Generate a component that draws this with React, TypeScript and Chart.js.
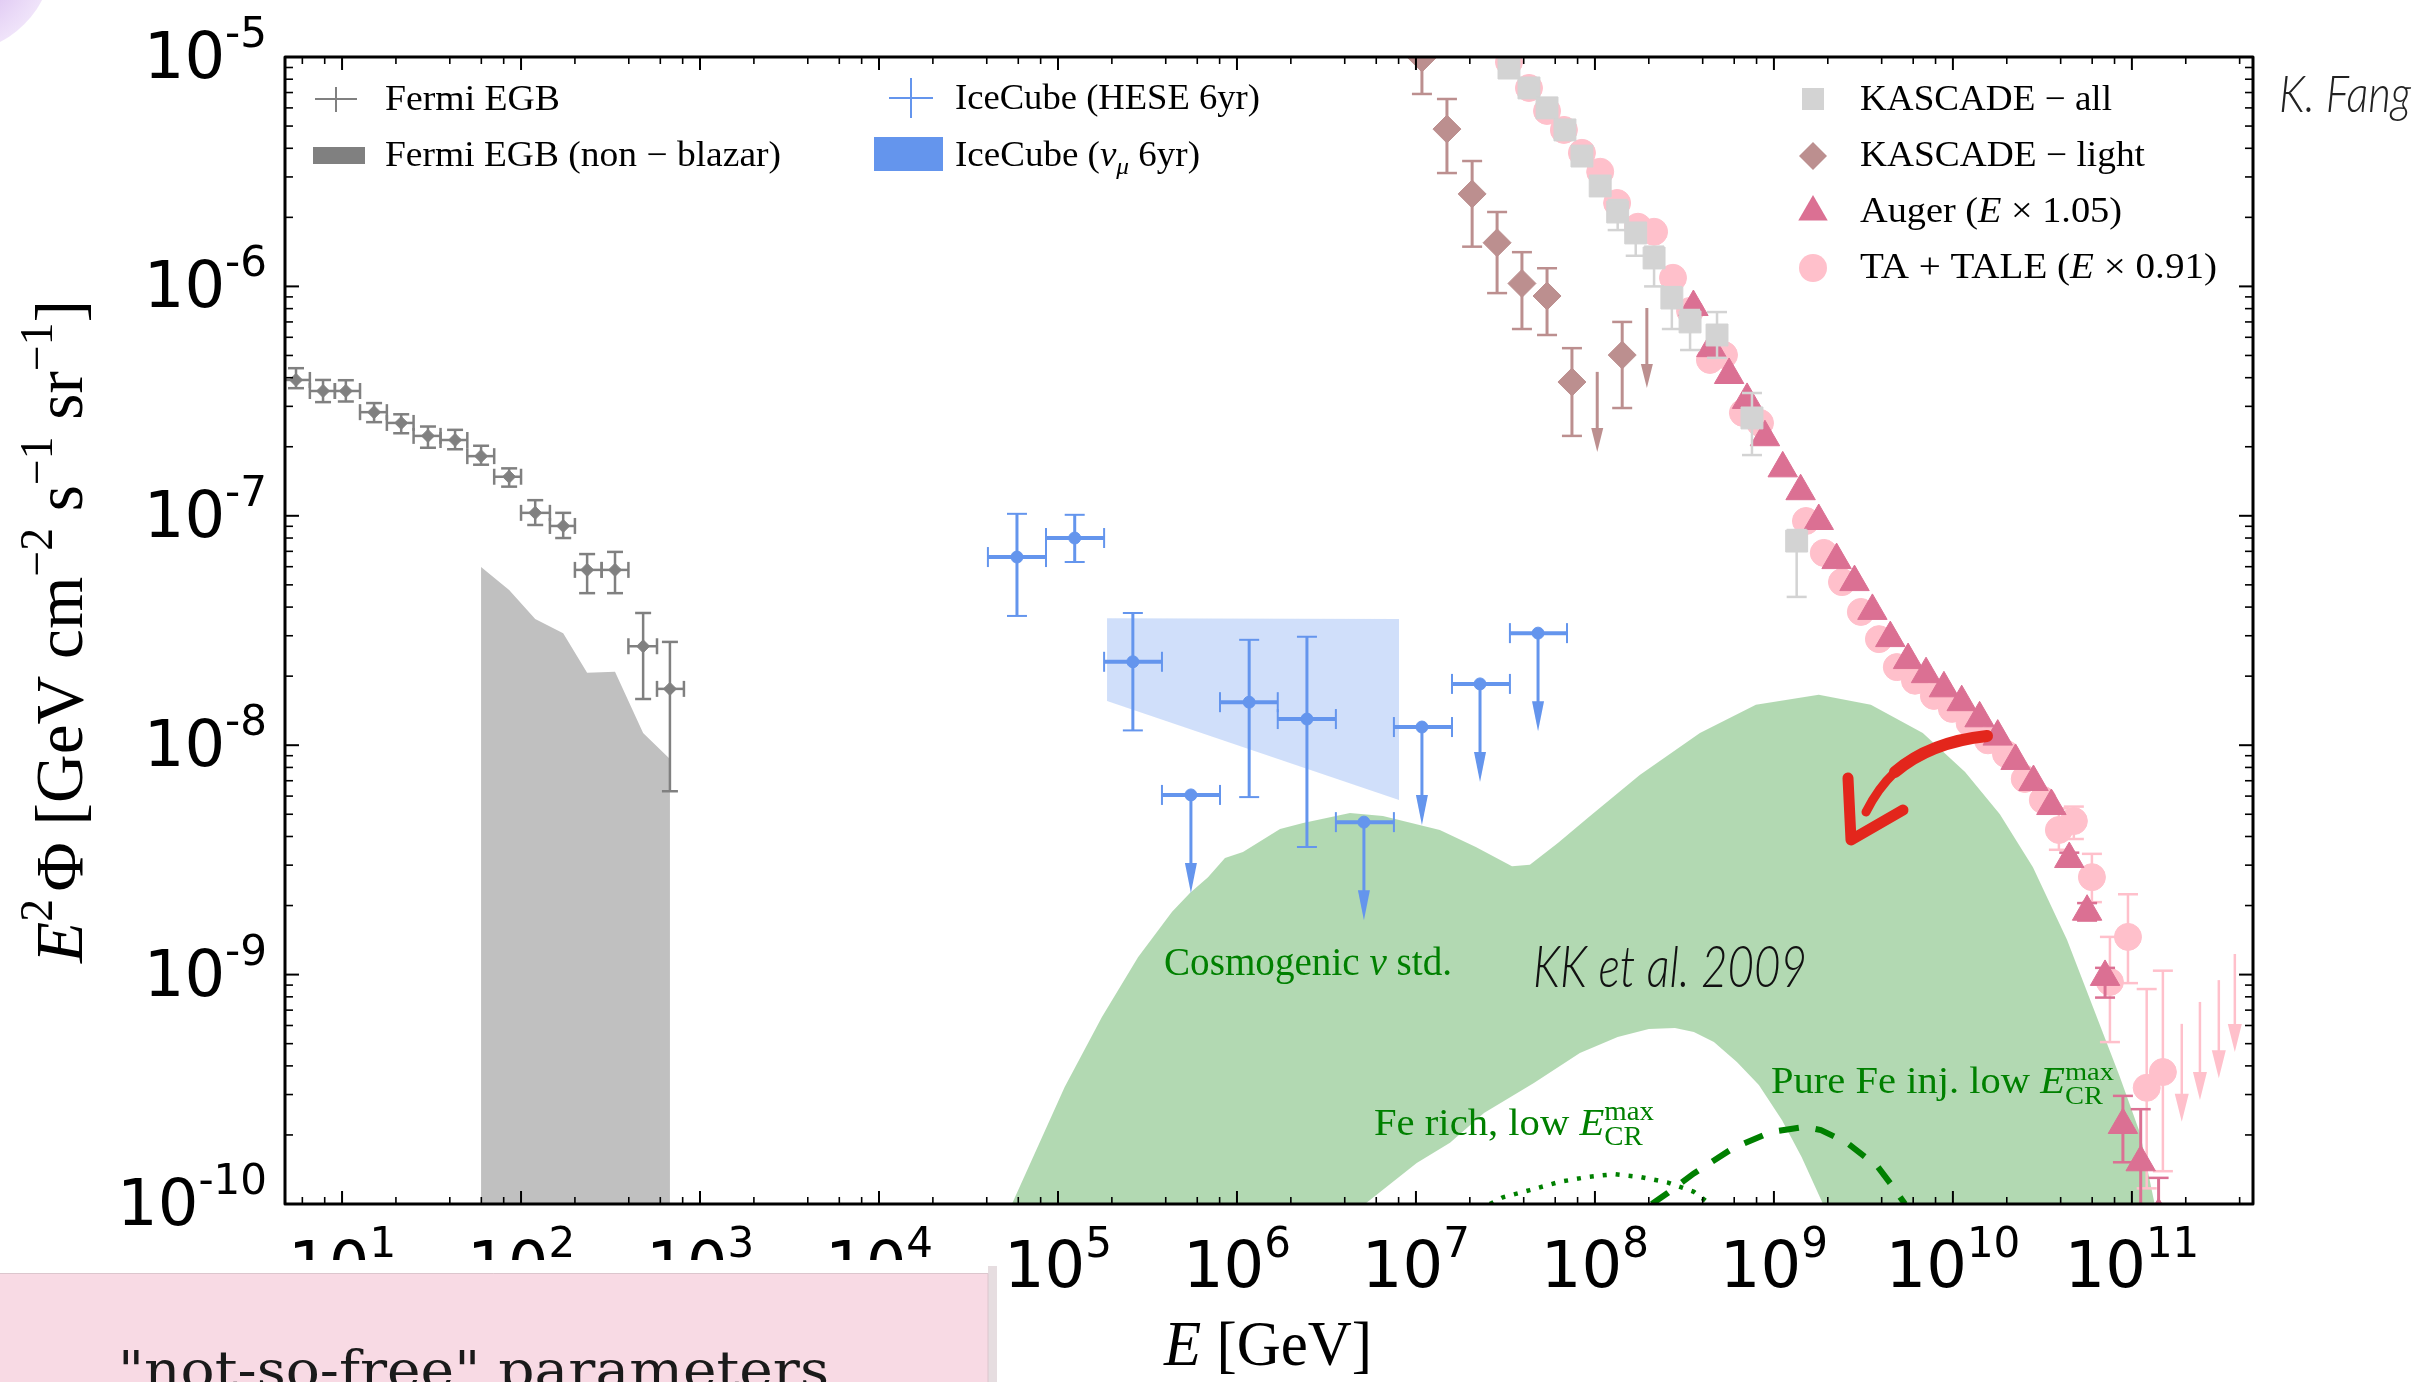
import React, { useEffect, useRef } from 'react';
import { Chart, registerables } from 'chart.js';

Chart.register(...registerables);

// ---------------- axes ----------------
const X_MIN = 4.8;
const X_MAX = 4.75e11;
const Y_MIN = 1e-10;
const Y_MAX = 1e-5;
const xTickExponents = [1, 2, 3, 4, 5, 6, 7, 8, 9, 10, 11];
const yTickExponents = [-5, -6, -7, -8, -9, -10];
const xMinorMultipliers = [2, 4, 6, 8];
const yMinorMultipliers = [2, 3, 4, 5, 6, 7, 8, 9];

// ---------------- Fermi EGB ----------------
const fermiE = [5.53, 7.83, 10.5, 15.1, 21.4, 30.2, 42.8, 59.8, 85.8, 120, 172, 234, 335, 481, 679];
const fermiEdges = [4.68, 6.61, 9.12, 12.6, 17.8, 25.1, 35.5, 50.1, 70.8, 100, 145, 200, 282, 398, 575, 813];
const fermiPhi = [3.91e-7, 3.5e-7, 3.5e-7, 2.83e-7, 2.54e-7, 2.23e-7, 2.14e-7, 1.82e-7, 1.48e-7, 1.03e-7, 9.03e-8, 5.81e-8, 5.81e-8, 2.7e-8, 1.76e-8];
const fermiLo = [3.6e-7, 3.13e-7, 3.15e-7, 2.56e-7, 2.29e-7, 1.98e-7, 1.95e-7, 1.67e-7, 1.34e-7, 9.12e-8, 8.0e-8, 4.6e-8, 4.6e-8, 1.59e-8, 6.3e-9];
const fermiHi = [4.4e-7, 3.91e-7, 3.9e-7, 3.1e-7, 2.77e-7, 2.45e-7, 2.37e-7, 2.02e-7, 1.61e-7, 1.17e-7, 1.03e-7, 6.81e-8, 6.96e-8, 3.77e-8, 2.82e-8];

// Fermi EGB non-blazar (upper edge of shaded area)
const fermiNbE = [59.8, 85.8, 120, 172, 234, 335, 481, 679];
const fermiNbPhi = [5.98e-8, 4.75e-8, 3.55e-8, 3.08e-8, 2.07e-8, 2.09e-8, 1.13e-8, 8.7e-9];

// ---------------- IceCube HESE 6yr ----------------
const heseE = [5.9e4, 1.24e5, 2.62e5, 5.53e5, 1.17e6, 2.46e6, 5.12e6, 1.08e7, 2.28e7, 4.81e7];
const heseEdges = [4.06e4, 8.57e4, 1.81e5, 3.81e5, 8.04e5, 1.69e6, 3.57e6, 7.53e6, 1.59e7, 3.35e7, 6.98e7];
const hesePhi = [6.61e-8, 8.0e-8, 2.31e-8, 6.07e-9, 1.54e-8, 1.3e-8, 4.62e-9, 1.2e-8, 1.85e-8, 3.08e-8];
const heseLo = [3.66e-8, 6.29e-8, 1.16e-8, null, 5.94e-9, 3.6e-9, null, null, null, null];
const heseHi = [1.02e-7, 1.01e-7, 3.77e-8, null, 2.88e-8, 2.97e-8, null, null, null, null];
const heseUL = [false, false, false, true, false, false, true, true, true, true];

// ---------------- IceCube numu 6yr band ----------------
const iceBandE = [1.88e5, 8.04e6];
const iceBandHi = [3.58e-8, 3.55e-8];
const iceBandLo = [1.56e-8, 5.77e-9];

// ---------------- Cosmogenic nu band ----------------
const cosmoUpperE = [5.53e4, 1.09e5, 1.76e5, 2.8e5, 4.34e5, 5.46e5, 6.89e5, 8.57e5, 1.08e6, 1.74e6, 2.34e6, 4.28e6, 6.54e6, 1.36e7, 2.16e7, 3.44e7, 4.33e7, 6.21e7, 9.25e7, 1.78e8, 3.86e8, 7.93e8, 1.78e9, 3.48e9, 6.79e9, 1.17e10, 1.83e10, 2.8e10, 4.34e10, 6.06e10, 8.57e10, 1.11e11, 1.34e11];
const cosmoUpperPhi = [1e-10, 3.24e-10, 6.53e-10, 1.19e-9, 1.88e-9, 2.27e-9, 2.66e-9, 3.22e-9, 3.42e-9, 4.31e-9, 4.58e-9, 5.06e-9, 4.91e-9, 4.27e-9, 3.6e-9, 2.97e-9, 3.01e-9, 3.75e-9, 4.86e-9, 7.41e-9, 1.13e-8, 1.5e-8, 1.66e-8, 1.5e-8, 1.13e-8, 7.64e-9, 5.0e-9, 2.94e-9, 1.42e-9, 7.23e-10, 3.58e-10, 2.04e-10, 1e-10];
const cosmoHoleE = [5.19e6, 1.01e7, 1.55e7, 2.4e7, 4.56e7, 8.24e7, 1.34e8, 2.0e8, 2.8e8, 3.57e8, 4.62e8, 6.21e8, 8.24e8, 1.11e9, 1.43e9, 1.88e9];
const cosmoHolePhi = [1e-10, 1.51e-10, 1.85e-10, 2.49e-10, 3.37e-10, 4.55e-10, 5.35e-10, 5.79e-10, 5.85e-10, 5.62e-10, 5.08e-10, 4.16e-10, 3.3e-10, 2.32e-10, 1.6e-10, 1e-10];

// Fe rich, low Emax (dotted)
const feRichE = [2.59e7, 3.06e7, 4.33e7, 6.37e7, 9.02e7, 1.28e8, 1.81e8, 2.56e8, 3.57e8, 4.39e8];
const feRichPhi = [1e-10, 1.07e-10, 1.15e-10, 1.25e-10, 1.31e-10, 1.35e-10, 1.31e-10, 1.24e-10, 1.13e-10, 1e-10];
// Pure Fe inj. low Emax (dashed)
const pureFeE = [2.08e8, 2.56e8, 3.57e8, 5.9e8, 9.62e8, 1.49e9, 1.83e9, 2.56e9, 3.81e9, 4.62e9, 5.4e9];
const pureFePhi = [1e-10, 1.12e-10, 1.36e-10, 1.75e-10, 2.06e-10, 2.17e-10, 2.1e-10, 1.85e-10, 1.45e-10, 1.19e-10, 1e-10];

// ---------------- KASCADE light ----------------
const klE = [1.08e7, 1.49e7, 2.06e7, 2.84e7, 3.91e7, 5.4e7, 7.44e7, 1.42e8];
const klPhi = [9.9e-6, 4.85e-6, 2.53e-6, 1.55e-6, 1.03e-6, 9.08e-7, 3.83e-7, 5.02e-7];
const klLo = [6.9e-6, 3.12e-6, 1.49e-6, 9.35e-7, 6.52e-7, 6.14e-7, 2.23e-7, 2.95e-7];
const klHi = [1.4e-5, 6.56e-6, 3.52e-6, 2.11e-6, 1.41e-6, 1.2e-6, 5.38e-7, 7.0e-7];
const klUlE = [1.03e8, 1.95e8];
const klUlPhi = [4.24e-7, 8.05e-7];

// ---------------- KASCADE all ----------------
const kaE = [3.31e7, 4.28e7, 5.4e7, 6.8e7, 8.46e7, 1.07e8, 1.34e8, 1.69e8, 2.14e8, 2.69e8, 3.4e8, 4.81e8, 7.54e8, 1.34e9];
const kaPhi = [8.95e-6, 7.33e-6, 6.0e-6, 4.81e-6, 3.7e-6, 2.74e-6, 2.11e-6, 1.71e-6, 1.33e-6, 8.9e-7, 7.0e-7, 6.14e-7, 2.67e-7, 7.76e-8];
const kaLo = [null, null, null, null, null, null, 1.76e-6, 1.36e-6, 1.0e-6, 6.52e-7, 5.28e-7, 4.88e-7, 1.84e-7, 4.43e-8];
const kaHi = [null, null, null, null, null, null, 2.38e-6, 1.85e-6, 1.49e-6, 9.93e-7, 7.89e-7, 7.73e-7, 3.43e-7, 8.67e-8];

// ---------------- Auger (E x 1.05) ----------------
const augerE = [3.55e8, 4.47e8, 5.62e8, 7.08e8, 8.91e8, 1.12e9, 1.41e9, 1.78e9, 2.24e9, 2.82e9, 3.55e9, 4.47e9, 5.62e9, 7.08e9, 8.91e9, 1.12e10, 1.41e10, 1.78e10, 2.24e10, 2.82e10, 3.55e10, 4.47e10, 5.62e10, 7.08e10, 8.91e10, 1.12e11, 1.41e11];
const augerPhi = [8.13e-7, 5.38e-7, 4.11e-7, 3.2e-7, 2.2e-7, 1.61e-7, 1.28e-7, 9.49e-8, 6.41e-8, 5.14e-8, 3.85e-8, 2.93e-8, 2.35e-8, 2.04e-8, 1.77e-8, 1.54e-8, 1.31e-8, 1.09e-8, 8.54e-9, 6.91e-9, 5.43e-9, 3.19e-9, 1.88e-9, 9.77e-10, 2.21e-10, 1.52e-10, 8.95e-11];
const augerLo = [null, null, null, null, null, null, null, null, null, null, null, null, null, null, null, null, null, null, null, null, null, 3.0e-9, 1.72e-9, 7.94e-10, 1.52e-10, 7.7e-11, 5e-11];
const augerHi = [null, null, null, null, null, null, null, null, null, null, null, null, null, null, null, null, null, null, null, null, null, 3.4e-9, 2.05e-9, 1.07e-9, 2.96e-10, 2.59e-10, 1.3e-10];

// ---------------- TA + TALE (E x 0.91) ----------------
const taE = [3.31e7, 4.28e7, 5.4e7, 6.71e7, 8.46e7, 1.07e8, 1.33e8, 1.74e8, 2.14e8, 2.73e8, 3.4e8, 4.39e8, 5.26e8, 6.71e8, 8.36e8, 1.51e9, 1.9e9, 2.4e9, 3.06e9, 3.86e9, 4.86e9, 6.14e9, 7.83e9, 9.87e9, 1.24e10, 1.57e10, 1.98e10, 2.52e10, 3.18e10, 3.91e10, 4.74e10, 5.98e10, 7.54e10, 9.51e10, 1.21e11, 1.49e11];
const taPhi = [9.51e-6, 7.33e-6, 5.82e-6, 4.81e-6, 3.82e-6, 3.16e-6, 2.31e-6, 1.82e-6, 1.73e-6, 1.09e-6, 7.82e-7, 4.78e-7, 5.02e-7, 2.81e-7, 2.54e-7, 9.49e-8, 6.89e-8, 5.14e-8, 3.81e-8, 2.9e-8, 2.19e-8, 1.91e-8, 1.64e-8, 1.44e-8, 1.25e-8, 1.05e-8, 9.16e-9, 7.13e-9, 5.77e-9, 4.27e-9, 4.67e-9, 2.66e-9, 9.29e-10, 1.46e-9, 3.21e-10, 3.76e-10];
const taLo = [null, null, null, null, null, null, null, null, null, null, null, null, null, null, null, null, null, null, null, null, null, null, null, null, null, null, null, null, null, 3.5e-9, 3.9e-9, 2.07e-9, 5.08e-10, 9.18e-10, 1.17e-10, 1.39e-10];
const taHi = [null, null, null, null, null, null, null, null, null, null, null, null, null, null, null, null, null, null, null, null, null, null, null, null, null, null, null, null, null, 5.3e-9, 5.4e-9, 3.36e-9, 1.46e-9, 2.24e-9, 8.65e-10, 1.04e-9];
const taUlE = [1.9e11, 2.4e11, 3.06e11, 3.76e11];
const taUlPhi = [6.1e-10, 7.6e-10, 9.46e-10, 1.23e-9];

// ---------------- colours ----------------
const GRAY = '#808080';
const SILVER = '#c0c0c0';
const BLUE = '#6495ed';
const BLUE_BAND = 'rgba(100,149,237,0.3)';
const GREEN = '#008000';
const GREEN_BAND = 'rgba(0,128,0,0.3)';
const ROSY = '#bc8f8f';
const LGRAY = '#d3d3d3';
const PVR = '#db7093';
const PINK = '#ffc0cb';

const SERIF = '"Liberation Serif", "Times New Roman", serif';
const SANS = '"DejaVu Sans", sans-serif';
const rm = (px: number) => `${px}px ${SERIF}`;
const it = (px: number) => `italic ${px}px ${SERIF}`;

const pts = (xs: number[], ys: number[]) => xs.map((x, i) => ({ x, y: ys[i] }));

type Seg = { t: string; f: string; dy?: number; noAdv?: boolean };

function drawRich(ctx: CanvasRenderingContext2D, segs: Seg[], x: number, y: number, align: string, color: string, targetW?: number) {
  let natural = 0;
  for (const s of segs) {
    ctx.font = s.f;
    if (!s.noAdv) natural += ctx.measureText(s.t).width;
  }
  const sc = targetW ? targetW / natural : 1;
  const w = natural * sc;
  const x0 = align === 'left' ? x : align === 'center' ? x - w / 2 : x - w;
  ctx.save();
  ctx.translate(x0, y);
  ctx.scale(sc, 1);
  ctx.fillStyle = color;
  ctx.textAlign = 'left';
  ctx.textBaseline = 'alphabetic';
  let cx = 0;
  for (const s of segs) {
    ctx.font = s.f;
    ctx.fillText(s.t, cx, s.dy || 0);
    if (!s.noAdv) cx += ctx.measureText(s.t).width;
  }
  ctx.restore();
}

function line(ctx: CanvasRenderingContext2D, x1: number, y1: number, x2: number, y2: number) {
  ctx.beginPath();
  ctx.moveTo(x1, y1);
  ctx.lineTo(x2, y2);
  ctx.stroke();
}

function arrowDown(ctx: CanvasRenderingContext2D, x: number, y: number, len: number, head: number, hw: number, lw: number) {
  ctx.lineWidth = lw;
  line(ctx, x, y, x, y + len - head + 2);
  ctx.beginPath();
  ctx.moveTo(x, y + len);
  ctx.lineTo(x - hw, y + len - head);
  ctx.lineTo(x + hw, y + len - head);
  ctx.closePath();
  ctx.fill();
}

const errPlugin = {
  id: 'errbars',
  beforeDatasetDraw(chart: any, args: any) {
    const ds = chart.data.datasets[args.index];
    const e = ds && ds.errbars;
    if (!e) return;
    const ctx: CanvasRenderingContext2D = chart.ctx;
    const xs = chart.scales.x;
    const ys = chart.scales.y;
    const a = chart.chartArea;
    ctx.save();
    ctx.beginPath();
    ctx.rect(a.left, a.top, a.right - a.left, a.bottom - a.top);
    ctx.clip();
    ctx.strokeStyle = e.color;
    ctx.fillStyle = e.color;
    ctx.lineCap = 'butt';
    for (let i = 0; i < e.E.length; i++) {
      const x = xs.getPixelForValue(e.E[i]);
      const y = ys.getPixelForValue(e.phi[i]);
      if (e.lo && e.lo[i] != null && e.hi[i] != null) {
        const y1 = ys.getPixelForValue(e.hi[i]);
        const y2 = ys.getPixelForValue(e.lo[i]);
        ctx.lineWidth = e.lw;
        line(ctx, x, y1, x, y2);
        ctx.lineWidth = e.capLw;
        line(ctx, x - e.cap, y1, x + e.cap, y1);
        line(ctx, x - e.cap, y2, x + e.cap, y2);
      }
      if (e.edges) {
        const x1 = xs.getPixelForValue(e.edges[i]);
        const x2 = xs.getPixelForValue(e.edges[i + 1]);
        ctx.lineWidth = e.xlw;
        line(ctx, x1, y, x2, y);
        ctx.lineWidth = e.capLw;
        line(ctx, x1, y - e.cap, x1, y + e.cap);
        line(ctx, x2, y - e.cap, x2, y + e.cap);
      }
      if (e.ul && e.ul[i]) arrowDown(ctx, x, y, e.arrowLen, e.head, e.hw, e.lw);
    }
    if (e.ulE) {
      for (let i = 0; i < e.ulE.length; i++) {
        const x = xs.getPixelForValue(e.ulE[i]);
        const y = ys.getPixelForValue(e.ulPhi[i]);
        arrowDown(ctx, x, y, e.arrowLen, e.head, e.hw, e.lw);
      }
    }
    ctx.restore();
  },
};

const decoPlugin = {
  id: 'deco',
  afterDraw(chart: any) {
    const ctx: CanvasRenderingContext2D = chart.ctx;
    const xs = chart.scales.x;
    const ys = chart.scales.y;
    const a = chart.chartArea;
    ctx.save();

    // ---- annotations inside the plot ----
    drawRich(ctx, [{ t: 'Cosmogenic ', f: rm(41) }, { t: 'ν', f: it(41) }, { t: ' std.', f: rm(41) }], 1164, 975, 'left', GREEN, 288);
    drawRich(ctx, [{ t: 'KK et al. 2009', f: `italic 300 58px Lato, "Open Sans", sans-serif` }], 1533, 987, 'left', '#111', 274);
    drawRich(ctx, [
      { t: 'Fe rich, low ', f: rm(38) }, { t: 'E', f: it(38) },
      { t: 'CR', f: rm(27), dy: 10, noAdv: true }, { t: 'max', f: rm(27), dy: -15 },
    ], 1374, 1135, 'left', GREEN, 280);
    drawRich(ctx, [
      { t: 'Pure Fe inj. low ', f: rm(37) }, { t: 'E', f: it(37) },
      { t: 'CR', f: rm(26), dy: 11, noAdv: true }, { t: 'max', f: rm(26), dy: -13 },
    ], 1771, 1093, 'left', GREEN, 343);

    // ---- red hand-drawn arrow ----
    ctx.strokeStyle = '#e3261c';
    ctx.lineCap = 'round';
    ctx.lineJoin = 'round';
    ctx.lineWidth = 12;
    ctx.beginPath();
    ctx.moveTo(1987, 736);
    ctx.quadraticCurveTo(1930, 742, 1895, 772);
    ctx.stroke();
    ctx.lineWidth = 9;
    ctx.beginPath();
    ctx.moveTo(1895, 772);
    ctx.quadraticCurveTo(1878, 788, 1866, 812);
    ctx.stroke();
    ctx.lineWidth = 11;
    ctx.beginPath();
    ctx.moveTo(1848, 778);
    ctx.lineTo(1851, 840);
    ctx.lineTo(1903, 810);
    ctx.stroke();

    // ---- frame ----
    ctx.lineCap = 'butt';
    ctx.strokeStyle = '#000';
    ctx.fillStyle = '#000';
    const xTick = (v: number, major: boolean) => {
      const x = xs.getPixelForValue(v);
      if (x < a.left + 1 || x > a.right - 1) return;
      const L = major ? 13 : 7;
      ctx.lineWidth = major ? 2 : 1.6;
      line(ctx, x, a.bottom, x, a.bottom - L);
      line(ctx, x, a.top, x, a.top + L);
    };
    for (let d = 0; d <= 11; d++) {
      xTick(Math.pow(10, d), true);
      for (const m of xMinorMultipliers) xTick(m * Math.pow(10, d), false);
    }
    const yTick = (v: number, major: boolean) => {
      const y = ys.getPixelForValue(v);
      if (y < a.top + 1 || y > a.bottom - 1) return;
      const L = major ? 14 : 8;
      ctx.lineWidth = major ? 2 : 1.6;
      line(ctx, a.left, y, a.left + L, y);
      line(ctx, a.right, y, a.right - L, y);
    };
    for (let d = -10; d <= -5; d++) {
      yTick(Math.pow(10, d), true);
      for (const m of yMinorMultipliers) yTick(m * Math.pow(10, d), false);
    }
    ctx.lineWidth = 3;
    ctx.strokeRect(a.left, a.top, a.right - a.left, a.bottom - a.top);

    // ---- tick labels ----
    const big = `64px ${SANS}`;
    const small = `42px ${SANS}`;
    ctx.fillStyle = '#000';
    ctx.textBaseline = 'alphabetic';
    for (const ex of yTickExponents) {
      const y = ys.getPixelForValue(Math.pow(10, ex));
      ctx.font = small;
      const sup = String(ex);
      const ws = ctx.measureText(sup).width;
      ctx.textAlign = 'left';
      ctx.fillText(sup, 267 - ws, y - 10);
      ctx.font = big;
      const w10 = ctx.measureText('10').width;
      ctx.fillText('10', 267 - ws - w10, y + 21);
    }
    for (const ex of xTickExponents) {
      const x = xs.getPixelForValue(Math.pow(10, ex));
      ctx.font = big;
      const w10 = ctx.measureText('10').width;
      ctx.font = small;
      const sup = String(ex);
      const ws = ctx.measureText(sup).width;
      const x0 = x - (w10 + ws) / 2;
      ctx.textAlign = 'left';
      ctx.font = big;
      ctx.fillText('10', x0, 1287);
      ctx.font = small;
      ctx.fillText(sup, x0 + w10, 1257);
    }

    // ---- axis titles ----
    drawRich(ctx, [{ t: 'E', f: it(64) }, { t: ' [GeV]', f: rm(64) }], 1268, 1365, 'center', '#000', 208);
    ctx.save();
    ctx.translate(82, 963);
    ctx.rotate(-Math.PI / 2);
    drawRich(ctx, [
      { t: 'E', f: it(68) }, { t: '2', f: rm(46), dy: -30 }, { t: ' ', f: rm(30) },
      { t: 'Φ', f: rm(68) }, { t: ' [GeV cm', f: rm(68) }, { t: '−2', f: rm(46), dy: -30 },
      { t: ' s', f: rm(68) }, { t: '−1', f: rm(46), dy: -30 },
      { t: ' sr', f: rm(68) }, { t: '−1', f: rm(46), dy: -30 }, { t: ']', f: rm(68) },
    ], 0, 0, 'left', '#000', 663);
    ctx.restore();

    // ---- legends ----
    ctx.strokeStyle = GRAY;
    ctx.lineWidth = 2;
    line(ctx, 315, 99, 357, 99);
    line(ctx, 336, 87, 336, 112);
    drawRich(ctx, [{ t: 'Fermi EGB', f: rm(35) }], 385, 110, 'left', '#000', 175);
    ctx.fillStyle = GRAY;
    ctx.fillRect(313, 147, 52, 17);
    drawRich(ctx, [{ t: 'Fermi EGB (non − blazar)', f: rm(35) }], 385, 166, 'left', '#000', 396);
    ctx.strokeStyle = BLUE;
    line(ctx, 889, 98, 933, 98);
    line(ctx, 911, 78, 911, 118);
    drawRich(ctx, [{ t: 'IceCube (HESE 6yr)', f: rm(35) }], 955, 109, 'left', '#000', 305);
    ctx.fillStyle = BLUE;
    ctx.fillRect(874, 137, 69, 34);
    drawRich(ctx, [{ t: 'IceCube (', f: rm(35) }, { t: 'ν', f: it(35) }, { t: 'μ', f: it(24), dy: 8 }, { t: ' 6yr)', f: rm(35) }], 955, 166, 'left', '#000', 245);
    const mx = 1813;
    ctx.fillStyle = LGRAY;
    ctx.fillRect(mx - 11, 99 - 11, 22, 22);
    ctx.fillStyle = ROSY;
    ctx.beginPath();
    ctx.moveTo(mx - 14, 156); ctx.lineTo(mx, 142); ctx.lineTo(mx + 14, 156); ctx.lineTo(mx, 170);
    ctx.closePath(); ctx.fill();
    ctx.fillStyle = PVR;
    ctx.beginPath();
    ctx.moveTo(mx, 212 - 17);
    ctx.lineTo(mx + 17 * Math.sin(2 * Math.PI / 3), 212 + 8.5);
    ctx.lineTo(mx - 17 * Math.sin(2 * Math.PI / 3), 212 + 8.5);
    ctx.closePath(); ctx.fill();
    ctx.fillStyle = PINK;
    ctx.beginPath(); ctx.arc(mx, 268, 14, 0, Math.PI * 2); ctx.fill();
    drawRich(ctx, [{ t: 'KASCADE − all', f: rm(35) }], 1860, 110, 'left', '#000', 252);
    drawRich(ctx, [{ t: 'KASCADE − light', f: rm(35) }], 1860, 166, 'left', '#000', 285);
    drawRich(ctx, [{ t: 'Auger (', f: rm(35) }, { t: 'E', f: it(35) }, { t: ' × 1.05)', f: rm(35) }], 1860, 222, 'left', '#000', 262);
    drawRich(ctx, [{ t: 'TA + TALE (', f: rm(35) }, { t: 'E', f: it(35) }, { t: ' × 0.91)', f: rm(35) }], 1860, 278, 'left', '#000', 357);

    drawRich(ctx, [{ t: 'K. Fang', f: `italic 300 52px Lato, "Open Sans", sans-serif` }], 2279, 112, 'left', '#222', 132);

    // ---- slide decorations ----
    ctx.fillStyle = '#ffffff';
    ctx.fillRect(0, 1260, 998, 122);
    ctx.fillStyle = '#e6dde0';
    ctx.fillRect(988, 1266, 9, 116);
    ctx.fillStyle = '#f8dae4';
    ctx.fillRect(0, 1273, 988, 109);
    ctx.strokeStyle = '#dcc6cd';
    ctx.lineWidth = 1;
    ctx.strokeRect(-1, 1273.5, 989, 120);
    drawRich(ctx, [{ t: '"not-so-free" parameters', f: `52px "DejaVu Serif", serif` }], 118, 1388, 'left', '#1a1a1a', 711);

    const g = ctx.createRadialGradient(-45, -45, 10, -45, -45, 98);
    g.addColorStop(0, 'rgba(205,170,235,1)');
    g.addColorStop(1, 'rgba(240,228,250,1)');
    ctx.fillStyle = g;
    ctx.beginPath();
    ctx.arc(-45, -45, 98, 0, Math.PI * 2);
    ctx.fill();

    ctx.restore();
  },
};

function buildConfig(): any {
  const cosmoPoly = [...pts(cosmoUpperE, cosmoUpperPhi), ...pts(cosmoHoleE, cosmoHolePhi).reverse()];
  const fermiPoly = [{ x: fermiNbE[0], y: Y_MIN }, ...pts(fermiNbE, fermiNbPhi), { x: fermiNbE[fermiNbE.length - 1], y: Y_MIN }];
  const icePoly = [...pts(iceBandE, iceBandLo), ...pts(iceBandE, iceBandHi).reverse()];
  const shape = (data: any[], color: string, order: number) => ({
    data, showLine: true, fill: 'shape', backgroundColor: color, borderColor: 'rgba(0,0,0,0)',
    borderWidth: 0, pointRadius: 0, order, tension: 0,
  });
  const marks = (data: any[], style: string, r: number, color: string, order: number, errbars: any) => ({
    data, showLine: false, pointStyle: style, pointRadius: r, backgroundColor: color,
    borderColor: color, borderWidth: 1, pointHoverRadius: r, order, clip: 0, errbars,
  });
  const datasets = [
    shape(cosmoPoly, GREEN_BAND, 20),
    shape(icePoly, BLUE_BAND, 19),
    shape(fermiPoly, SILVER, 18),
    {
      data: pts(feRichE, feRichPhi), showLine: true, fill: false, borderColor: GREEN, borderWidth: 4.5,
      borderDash: [4, 9], pointRadius: 0, order: 17, clip: 0,
    },
    {
      data: pts(pureFeE, pureFePhi), showLine: true, fill: false, borderColor: GREEN, borderWidth: 6,
      borderDash: [20, 17], pointRadius: 0, order: 16, clip: 0,
    },
    marks(pts(taE, taPhi), 'circle', 13.5, PINK, 10, {
      E: taE, phi: taPhi, lo: taLo, hi: taHi, color: PINK, lw: 2.5, capLw: 2.5, cap: 10,
      ulE: taUlE, ulPhi: taUlPhi, arrowLen: 98, head: 28, hw: 7,
    }),
    marks(pts(augerE, augerPhi), 'triangle', 17, PVR, 9, {
      E: augerE, phi: augerPhi, lo: augerLo, hi: augerHi, color: PVR, lw: 3, capLw: 2.5, cap: 10,
    }),
    marks(pts(kaE, kaPhi), 'rect', 15.5, LGRAY, 8, {
      E: kaE, phi: kaPhi, lo: kaLo, hi: kaHi, color: LGRAY, lw: 2.5, capLw: 2.5, cap: 10,
    }),
    marks(pts(klE, klPhi), 'rectRot', 14, ROSY, 7, {
      E: klE, phi: klPhi, lo: klLo, hi: klHi, color: ROSY, lw: 3, capLw: 2.5, cap: 10,
      ulE: klUlE, ulPhi: klUlPhi, arrowLen: 80, head: 24, hw: 6,
    }),
    marks(pts(heseE, hesePhi), 'circle', 6, BLUE, 6, {
      E: heseE, phi: hesePhi, lo: heseLo, hi: heseHi, edges: heseEdges, ul: heseUL, color: BLUE,
      lw: 3, xlw: 4, capLw: 2, cap: 10, arrowLen: 98, head: 30, hw: 6,
    }),
    marks(pts(fermiE, fermiPhi), 'rectRot', 6.5, GRAY, 5, {
      E: fermiE, phi: fermiPhi, lo: fermiLo, hi: fermiHi, edges: fermiEdges, color: GRAY,
      lw: 2.5, xlw: 2.5, capLw: 2.5, cap: 8,
    }),
  ];
  return {
    type: 'scatter',
    data: { datasets },
    options: {
      animation: false,
      responsive: false,
      devicePixelRatio: 1,
      events: [],
      layout: { padding: { left: 285, top: 57, right: 164, bottom: 178 } },
      scales: {
        x: { type: 'logarithmic', min: X_MIN, max: X_MAX, display: false },
        y: { type: 'logarithmic', min: Y_MIN, max: Y_MAX, display: false },
      },
      plugins: { legend: { display: false }, tooltip: { enabled: false } },
    },
    plugins: [errPlugin, decoPlugin],
  };
}

export default function App() {
  const ref = useRef<HTMLCanvasElement>(null);
  useEffect(() => {
    if (!ref.current) return;
    const chart = new Chart(ref.current, buildConfig());
    return () => chart.destroy();
  }, []);
  return (
    <div style={{ position: 'absolute', left: 0, top: 0, width: 2417, height: 1382, overflow: 'hidden', background: '#fff' }}>
      <canvas ref={ref} width={2417} height={1382} style={{ position: 'absolute', left: 0, top: 0, width: 2417, height: 1382 }} />
    </div>
  );
}
